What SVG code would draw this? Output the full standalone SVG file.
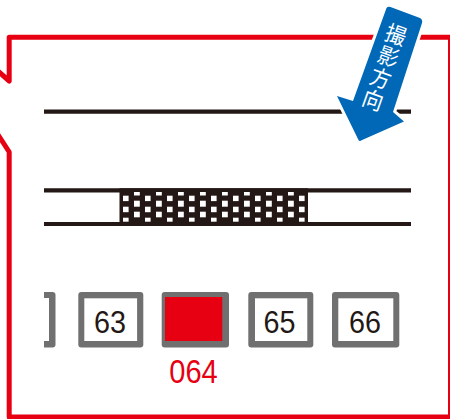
<svg xmlns="http://www.w3.org/2000/svg" width="450" height="419" viewBox="0 0 450 419">
<style>
.ln{stroke:#231815;stroke-width:4.200;fill:none}
.bx{fill:#717071}
.in{fill:#fff}
.d{fill:#fff}
.n{font-family:"Liberation Sans",Arial,sans-serif;font-size:31px;fill:#231815;text-anchor:middle}
.c{font-family:"Noto Sans CJK JP",sans-serif;font-size:22px;fill:#fff;text-anchor:middle}
</style>
<defs>
<pattern id="dots" patternUnits="userSpaceOnUse" x="123" y="190" width="22" height="40">
<rect class="d" x="0" y="5.700" width="5.600" height="5.400"/>
<rect class="d" x="0" y="16.700" width="5.600" height="5.500"/>
<rect class="d" x="0" y="27.700" width="5.600" height="4"/>
<rect class="d" x="11" y="2" width="5.800" height="3.500"/>
<rect class="d" x="11" y="10.700" width="5.800" height="6"/>
<rect class="d" x="11" y="21.700" width="5.800" height="5.600"/>
</pattern>
</defs>
<g id="frame">
<path d="M-5 68.500 L9.200 81 V37.300 H450.500 V417 H9.200 V152 L-5 130" fill="none" stroke="#e60012" stroke-width="5" stroke-linejoin="round"/>
</g>
<g id="rails">
<path class="ln" d="M44 111.700H411M44 190.300H411M44 224H411"/>
<rect x="119.500" y="188.300" width="188.500" height="37.700" fill="#231815"/>
<rect x="119.500" y="188.300" width="185.500" height="37.700" fill="url(#dots)"/>
</g>
<g id="arrow">
<path d="M386.500 8 Q388 6 390.500 7 L420 18 Q423 20 422 23 L393 112 L404 121.500 L361 140.500 Q359 142 358 139 L337 96 L353 101 Z" fill="#0068b7" stroke="#fff" stroke-width="6" stroke-linejoin="round" paint-order="stroke"/>
<g transform="translate(396,35) rotate(19.500)">
<text class="c" transform="scale(.94,1)"><tspan x="0" y="8">撮</tspan><tspan x="0" y="31">影</tspan><tspan x="0" y="54">方</tspan><tspan x="0" y="77">向</tspan></text>
</g>
</g>
<g id="box-partial"><path class="bx" d="M44 292H52.500Q55.500 292 55.500 295V344.500Q55.500 347.500 52.500 347.500H44Z"/><rect class="in" x="44" y="298" width="5" height="43"/></g>
<g id="box-63"><rect class="bx" x="78.300" y="292" width="65" height="55.500" rx="3"/><rect class="in" x="84.300" y="298.300" width="52.800" height="42.700"/><text class="n" x="110" y="333" textLength="32" lengthAdjust="spacingAndGlyphs">63</text></g>
<g id="box-64"><rect class="bx" x="161.700" y="292" width="67.300" height="55.500" rx="3"/><rect x="165" y="297" width="57.300" height="44" fill="#e60012"/><text x="193.500" y="382.700" font-family="'Liberation Sans',Arial,sans-serif" font-size="33.500" fill="#e60012" text-anchor="middle" textLength="48.500" lengthAdjust="spacingAndGlyphs">064</text></g>
<g id="box-65"><rect class="bx" x="248.300" y="292" width="65" height="55.500" rx="3"/><rect class="in" x="255" y="298.300" width="52.300" height="42.700"/><text class="n" x="279.500" y="333" textLength="32" lengthAdjust="spacingAndGlyphs">65</text></g>
<g id="box-66"><rect class="bx" x="332" y="292" width="67.300" height="55.500" rx="3"/><rect class="in" x="338.300" y="298.300" width="55" height="42.700"/><text class="n" x="365" y="333" textLength="32" lengthAdjust="spacingAndGlyphs">66</text></g>
</svg>
